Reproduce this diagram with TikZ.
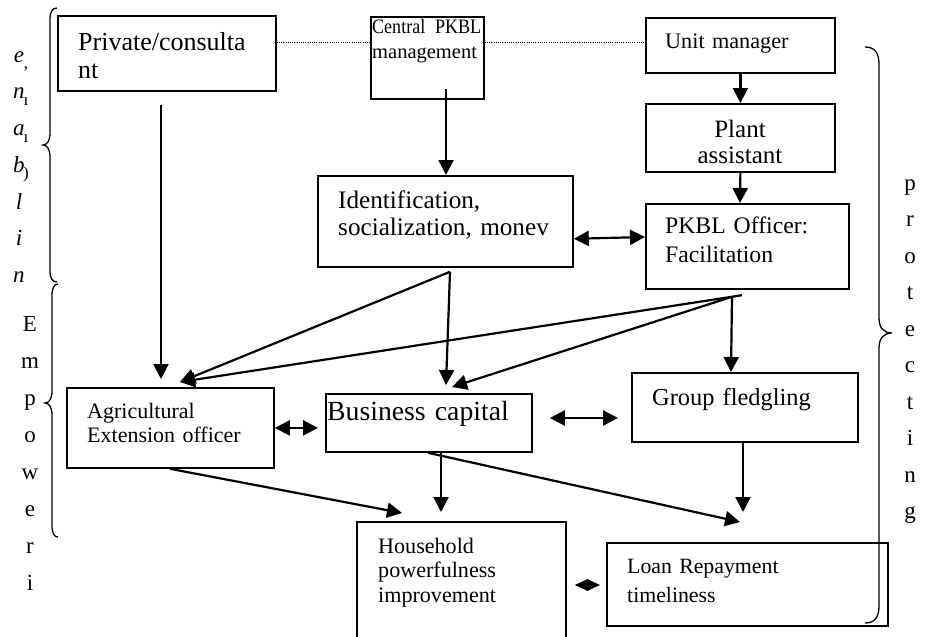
\documentclass[tikz,border=0pt]{standalone}
\usepackage{fontspec}
\usepackage{graphicx}
\setmainfont{Liberation Serif}
\usetikzlibrary{arrows.meta,calc}
\begin{document}
\begin{tikzpicture}[x=1pt,y=-1pt,
  box/.style={draw, line width=1.8pt, inner sep=0pt, anchor=north west},
  arr/.style={line width=2.2pt, -{Triangle[length=15pt,width=15pt]}},
  darr/.style={line width=2.2pt, {Triangle[length=15pt,width=15pt]}-{Triangle[length=15pt,width=15pt]}},
  diam/.style={line width=1pt, {Triangle[length=13.5pt,width=12pt]}-{Triangle[length=13.5pt,width=12pt]}},
  dots/.style={line width=1pt, dash pattern=on 1pt off 1.2pt},
  brc/.style={line width=1.3pt},
  txt/.style={inner sep=0pt, anchor=base west, align=left},
  col/.style={inner sep=0pt, anchor=base, align=center, text width=20pt},
]
\useasboundingbox (0,0) rectangle (930,637);
\clip (0,0) rectangle (930,637);
\fill[white] (0,0) rectangle (930,637);

% boxes
\node[box, minimum width=218pt, minimum height=75pt] (priv)  at (57,15)  {};
\node[box, minimum width=113pt, minimum height=82pt] (cent)  at (370,16) {};
\node[box, minimum width=189pt, minimum height=55pt] (unit)  at (645,17) {};
\node[box, minimum width=189pt, minimum height=68pt] (plant) at (645,103) {};
\node[box, minimum width=255pt, minimum height=91pt] (ident) at (317,175) {};
\node[box, minimum width=203pt, minimum height=85pt] (pkbl)  at (645,203) {};
\node[box, minimum width=207pt, minimum height=80pt] (agri)  at (66,387) {};
\node[box, minimum width=206pt, minimum height=58pt] (bus)   at (325,393) {};
\node[box, minimum width=226pt, minimum height=69pt] (grp)   at (631,372) {};
\node[box, minimum width=209pt, minimum height=130pt] (hh)   at (356,521) {};
\node[box, minimum width=281pt, minimum height=83pt] (loan)  at (606,542) {};

% texts
\node[txt, text width=200pt, font=\fontsize{26}{28}\selectfont] (privt) at (78,50) {Private/consulta\\nt};
\node[txt, text width=120pt, font=\fontsize{20.5}{25}\selectfont] (centt) at (372,33) {\makebox[109pt][l]{\scalebox{0.88}[1]{Central}\hfill\scalebox{0.88}[1]{PKBL}}\\management};
\node[txt, text width=170pt, font=\fontsize{22.2}{25}\selectfont] (unitt) at (665,48) {Unit manager};
\node[inner sep=0pt, anchor=base, align=center, text width=180pt, font=\fontsize{25}{26}\selectfont] (plantt) at (740,137) {Plant\\assistant};
\node[txt, text width=240pt, font=\fontsize{25.2}{27}\selectfont] (identt) at (338,208) {Identification,\\socialization, monev};
\node[txt, text width=190pt, font=\fontsize{23.7}{29}\selectfont] (pkblt) at (665,233) {PKBL Officer:\\Facilitation};
\node[txt, text width=190pt, font=\fontsize{22}{24}\selectfont] (agrit) at (87,418) {Agricultural\\Extension officer};
\node[txt, text width=205pt, font=\fontsize{27.7}{30}\selectfont] (bust) at (327,420) {Business capital};
\node[txt, text width=210pt, font=\fontsize{24.4}{27}\selectfont] (grpt) at (652,405) {Group fledgling};
\node[txt, text width=185pt, font=\fontsize{22.1}{24.5}\selectfont] (hht) at (378,553) {Household\\powerfulness\\improvement};
\node[txt, text width=255pt, font=\fontsize{21.8}{29}\selectfont] (loant) at (627,573) {Loan Repayment\\timeliness};

% side letters
\node[col, font=\fontsize{23}{36.5}\selectfont] (prot) at (910,190) {p\\r\\o\\t\\e\\c\\t\\i\\n\\g};
\node[col, font=\itshape\fontsize{23}{36.8}\selectfont] (enab) at (19,62) {e\\n\\a\\b\\l\\i\\n};
\node[col, font=\fontsize{17}{37}\selectfont] (marks) at (26,68) {,\\ı\\ı\\)};
\node[col, font=\fontsize{23}{37}\selectfont] (empw) at (30,331) {E\\m\\p\\o\\w\\e\\r\\i};

% dotted links
\draw[dots] ($(priv.north east)+(0,27)$) -- ($(cent.north west)+(0,26)$);
\draw[dots] ($(cent.north east)+(0,26)$) -- ($(unit.north west)+(0,25)$);

% junction coordinates
\coordinate (o1)  at ($(ident.south west)+(133,4)$);
\coordinate (o2)  at ($(pkbl.south west)+(87,7)$);
\coordinate (o2x) at ($(pkbl.south west)+(97,5.4)$);
\coordinate (tA)  at ($(agri.north west)+(114,-5)$);
\coordinate (tB1) at ($(bus.north west)+(121,-8)$);
\coordinate (tB2) at ($(bus.north west)+(127,-6)$);

% arrows
\draw[arr] ($(priv.south west)+(104,13)$) -- ($(agri.north west)+(95,-8)$);
\draw[arr] ($(cent.south west)+(76,-11)$) -- ($(ident.north west)+(129,0)$);
\draw[arr] (unit.south) -- (plant.north);
\draw[arr] (plant.south) -- ($(pkbl.north west)+(95,0)$);
\draw[darr] ($(ident.south east)+(0,-29)$) -- ($(pkbl.north west)+(0,34)$);
\draw[arr] (o1) -- (tA);
\draw[arr] (o1) -- (tB1);
\draw[arr] (o2x) -- (tA);
\draw[arr] (o2) -- (tB2);
\draw[arr] (o2) -- ($(grp.north west)+(100,0)$);
\draw[darr] (agri.east) -- ($(agri.east -| bus.west)+(-7,0)$);
\draw[darr] ($(bus.north east)+(17,25)$) -- ($(grp.north west)+(-13,46)$);
\draw[arr] ($(agri.south west)+(104,0)$) -- ($(hh.north west)+(46,-8)$);
\draw[arr] ($(bus.south west)+(116,0)$) -- ($(hh.north west)+(85,-9)$);
\draw[arr] ($(bus.south west)+(103,0)$) -- ($(loan.north west)+(134,-20)$);
\draw[arr] ($(grp.south west)+(112,0)$) -- ($(loan.north west)+(137,-30)$);
\draw[diam] ($(hh.north east)+(8,64)$) -- ($(loan.north west)+(-6,43)$);

% braces
\draw[brc] (57,8) .. controls (52,8) and (50,12) .. (50,20) -- (50,133)
  .. controls (50,141) and (47,145) .. (43,145)
  .. controls (47,145) and (50,149) .. (50,157) -- (50,270)
  .. controls (50,278) and (52,282) .. (57,282);
\draw[brc] (58,284) .. controls (54,284) and (52,288) .. (52,296) -- (52,391)
  .. controls (52,399) and (49,403) .. (45,403)
  .. controls (49,403) and (52,407) .. (52,415) -- (52,525)
  .. controls (52,533) and (54,537) .. (58,537);
\draw[brc] (865,47) .. controls (874,47) and (879,52) .. (879,64) -- (879,318)
  .. controls (879,328) and (884,333) .. (892,333)
  .. controls (884,333) and (879,338) .. (879,348) -- (879,606)
  .. controls (879,618) and (874,623) .. (865,623);
\end{tikzpicture}
\end{document}
